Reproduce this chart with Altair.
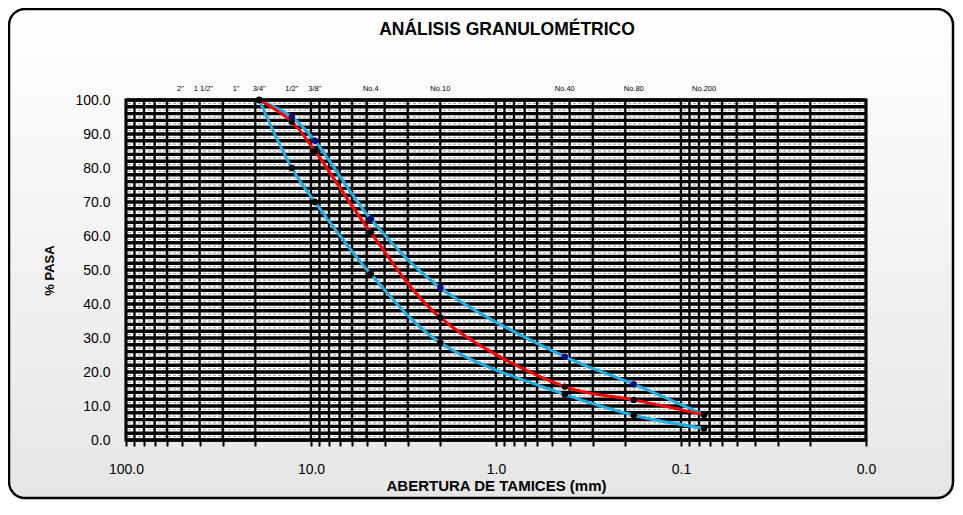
import altair as alt
import pandas as pd

# --- data ---
sieve_mm = [19.05, 12.7, 9.525, 4.75, 2.0, 0.425, 0.18, 0.075]
pasa_muestra = [100.0, 93.6, 85.0, 61.0, 36.0, 15.7, 11.8, 7.4]
limite_superior = [100.0, 95.0, 88.0, 65.0, 44.8, 24.5, 16.4, 7.4]
limite_inferior = [100.0, 80.0, 70.0, 48.8, 28.6, 13.4, 7.3, 3.4]

top_label_text = ['2"', '1 1/2"', '1"', '3/4"', '1/2"', '3/8"', "No.4", "No.10", "No.40", "No.80", "No.200"]
top_label_mm = [50.8, 38.1, 25.4, 19.05, 12.7, 9.525, 4.75, 2.0, 0.425, 0.18, 0.075]

x_decades = [100, 10, 1, 0.1, 0.01]
x_grid = [k * 10 ** e for e in range(-2, 2) for k in range(1, 10)] + [100]
y_major = list(range(0, 101, 2))
y_minor = list(range(1, 100, 2))
y_labels = list(range(0, 101, 10))

W, H = 740, 340
FONT = "Liberation Sans"

xscale = alt.Scale(type="log", domain=[0.01, 100], reverse=True, nice=False)
yscale = alt.Scale(domain=[0, 100], nice=False)

xaxis = alt.Axis(
    values=x_grid,
    labelExpr="indexof([100, 10, 1, 0.1, 0.01], datum.value) >= 0 ? format(datum.value, '.1f') : ''",
    tickSize=6, tickWidth=2, tickColor="black", domain=False, grid=False,
    labelFont=FONT, labelFontSize=14, labelColor="black", labelPadding=16,
    labelOverlap=False, labelFlush=False,
    title="ABERTURA DE TAMICES (mm)", titleFont=FONT, titleFontSize=15,
    titleFontWeight="bold", titleColor="black", titlePadding=2, zindex=1)

yaxis = alt.Axis(
    values=y_labels, format=".1f", ticks=False, domain=False, grid=False,
    labelFont=FONT, labelFontSize=14, labelColor="black", labelPadding=16,
    title="% PASA", titleFont=FONT, titleFontSize=13, titleFontWeight="bold",
    titleColor="black", titlePadding=18, zindex=1)


def X(field):
    return alt.X(field, scale=xscale, axis=xaxis)


def Y(field):
    return alt.Y(field, scale=yscale, axis=yaxis)


one = pd.DataFrame({"a": [0]})

bg = alt.Chart(one).mark_rect(
    cornerRadius=16, stroke="black", strokeWidth=2.5,
    fill=alt.LinearGradient(gradient="linear", x1=0, x2=0, y1=0, y2=1,
                            stops=[alt.GradientStop(color="#FFFFFF", offset=0),
                                   alt.GradientStop(color="#E6E6E6", offset=1)])
).encode(x=alt.value(-117), x2=alt.value(827), y=alt.value(-91), y2=alt.value(398))

plotbg = alt.Chart(one).mark_rect(fill="white").encode(
    x=alt.value(0), x2=alt.value(W), y=alt.value(0), y2=alt.value(H))

title = alt.Chart(one).mark_text(
    text="ANÁLISIS GRANULOMÉTRICO", font=FONT, fontSize=17.5, fontWeight="bold",
    color="black", align="center", baseline="middle"
).encode(x=alt.value(381), y=alt.value(-70))

hminor = alt.Chart(pd.DataFrame({"h": y_minor})).mark_rule(
    color="#9a9a9a", strokeWidth=1, strokeDash=[3, 2]
).encode(y=Y("h:Q"))

hmajor = alt.Chart(pd.DataFrame({"h": y_major})).mark_rule(
    color="black", strokeWidth=3.4
).encode(y=Y("h:Q"))

vgrid = alt.Chart(pd.DataFrame({"v": x_grid})).mark_rule(
    color="black", strokeWidth=2.3
).encode(x=X("v:Q"))

toplabels = alt.Chart(pd.DataFrame({"mm": top_label_mm, "t": top_label_text})).mark_text(
    font=FONT, fontSize=7.5, color="black", baseline="middle", align="center"
).encode(x=X("mm:Q"), y=alt.value(-11), text="t:N")


def series(vals, name):
    return pd.DataFrame({"mm": sieve_mm, "pasa": vals, "serie": name})


df_sup = series(limite_superior, "sup")
df_inf = series(limite_inferior, "inf")
df_mue = series(pasa_muestra, "muestra")

BLUE = "#1DAEE6"

line_sup = alt.Chart(df_sup).mark_line(interpolate="catmull-rom", color=BLUE, strokeWidth=3).encode(
    x=X("mm:Q"), y=Y("pasa:Q"))
line_inf = alt.Chart(df_inf).mark_line(interpolate="catmull-rom", color=BLUE, strokeWidth=3).encode(
    x=X("mm:Q"), y=Y("pasa:Q"))
line_mue = alt.Chart(df_mue).mark_line(interpolate="catmull-rom", color="#FF0000", strokeWidth=3).encode(
    x=X("mm:Q"), y=Y("pasa:Q"))

pt_sup = alt.Chart(df_sup).mark_circle(size=42, color="#0B0B7A", opacity=1).encode(
    x=X("mm:Q"), y=Y("pasa:Q"))
pt_inf = alt.Chart(df_inf).mark_circle(size=42, color="black", opacity=1).encode(
    x=X("mm:Q"), y=Y("pasa:Q"))
pt_mue = alt.Chart(df_mue).mark_circle(size=42, color="black", opacity=1).encode(
    x=X("mm:Q"), y=Y("pasa:Q"))

frame = alt.Chart(one).mark_rect(fill="transparent", stroke="black", strokeWidth=3).encode(
    x=alt.value(0), x2=alt.value(W), y=alt.value(0), y2=alt.value(H))

chart = alt.layer(
    bg, plotbg, title, hminor, hmajor, vgrid, toplabels,
    line_inf, line_sup, line_mue, pt_sup, pt_inf, pt_mue, frame
).properties(
    width=W, height=H,
    autosize=alt.AutoSizeParams(type="none"),
    padding={"left": 118, "top": 92, "right": 89, "bottom": 62},
    background="white",
).configure_view(stroke=None)

chart.save("out.html", embed_options={"renderer": "svg", "actions": False})
